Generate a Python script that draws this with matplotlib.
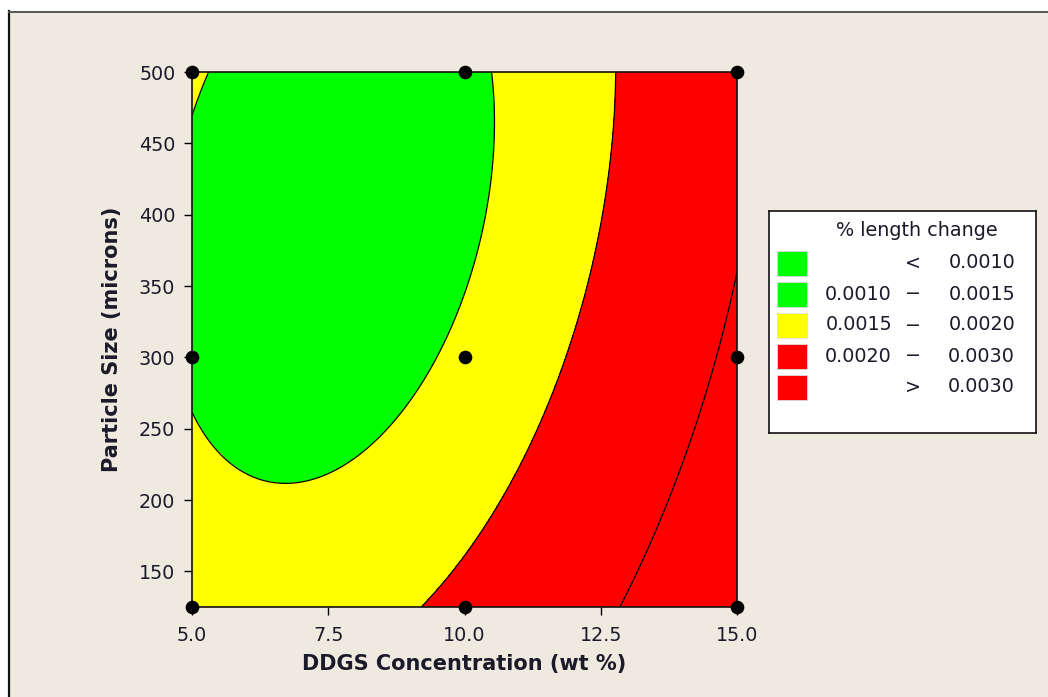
import numpy as np
import matplotlib
matplotlib.use("Agg")
import matplotlib.pyplot as plt
from matplotlib.patches import Rectangle
from matplotlib.lines import Line2D

# ---- data ----
# contour levels (% length change)
levels = [0.0010, 0.0015, 0.0020, 0.0030]
band_colors = ["#00FF00", "#00FF00", "#FFFF00", "#FF0000", "#FF0000"]

# points (DDGS wt %, particle size microns)
c0015_x = [5.33, 5.02, 10.53, 10.53, 10.41, 10.16, 9.98, 9.67, 9.18, 8.45, 7.84, 7.04, 6.40, 5.70, 5.02]
c0015_y = [500, 472, 500, 438, 396, 359, 340, 313, 282, 247, 226, 212, 212, 225, 260]
c0020_x = [12.76, 12.73, 12.61, 12.36, 12.15, 11.97, 11.81, 11.39, 10.83, 10.04, 9.21]
c0020_y = [500, 466, 420, 368, 340, 313, 294, 256, 209, 165, 125]
c0030_x = [14.96, 14.90, 14.72, 14.26, 13.59, 12.88]
c0030_y = [353, 340, 313, 256, 186, 126]

# design points
design_x = [5, 5, 5, 10, 10, 10, 15, 15, 15]
design_y = [125, 300, 500, 125, 300, 500, 125, 300, 500]

xticks = [5.0, 7.5, 10.0, 12.5, 15.0]
yticks = [150, 200, 250, 300, 350, 400, 450, 500]
xlabel = "DDGS Concentration (wt %)"
ylabel = "Particle Size (microns)"
legend_title = "% length change"

# ---- fit quadratic response surface through the read contour points ----
px = np.array(c0015_x + c0020_x + c0030_x, float)
py = np.array(c0015_y + c0020_y + c0030_y, float)
pz = np.array([0.0015] * len(c0015_x) + [0.0020] * len(c0020_x) + [0.0030] * len(c0030_x))

def basis(x, y):
    u = (x - 10.0) / 5.0
    v = (y - 312.5) / 187.5
    return np.stack([np.ones_like(u), u, v, u * u, v * v, u * v], axis=-1)

coef, *_ = np.linalg.lstsq(basis(px, py), pz, rcond=None)

gx = np.linspace(5, 15, 500)
gy = np.linspace(125, 500, 500)
GX, GY = np.meshgrid(gx, gy)
GZ = basis(GX, GY) @ coef

W, H = 1048, 697
fig = plt.figure(figsize=(W / 100, H / 100), dpi=100, facecolor="white")
# background panel with frame lines
fig.patches.append(Rectangle((9 / W, 0), 1, 1 - 12 / H, transform=fig.transFigure,
                             facecolor="#EFEAE0", edgecolor="none", zorder=-10))
fig.lines.append(Line2D([8.5 / W, 8.5 / W], [0, 1 - 11 / H], transform=fig.transFigure,
                        color="#111111", lw=1.6))
fig.lines.append(Line2D([8.5 / W, 1], [1 - 11.5 / H, 1 - 11.5 / H], transform=fig.transFigure,
                        color="#555555", lw=1.4))

ax = fig.add_axes([192 / W, 1 - 607 / H, 545 / W, 535 / H])
zmin = min(GZ.min(), levels[0]) - 1
zmax = max(GZ.max(), levels[-1]) + 1
ax.contourf(GX, GY, GZ, levels=[zmin] + levels + [zmax], colors=band_colors)
ax.contour(GX, GY, GZ, levels=levels, colors="black", linewidths=0.9)
ax.plot(design_x, design_y, "o", color="black", markersize=8.8, clip_on=False, zorder=5)

ax.set_xlim(5, 15)
ax.set_ylim(125, 500)
ax.set_xticks(xticks)
ax.set_xticklabels([f"{t:.1f}" for t in xticks])
ax.set_yticks(yticks)
ax.set_yticklabels([f"{t}" for t in yticks])
ax.tick_params(direction="out", length=6, width=1, labelsize=13.8, colors="black",
               labelcolor="#1a1a2a")
ax.tick_params(axis="x", pad=8)
ax.tick_params(axis="y", pad=6)
for s in ax.spines.values():
    s.set_linewidth(1.2)
    s.set_color("#111111")
ax.set_xlabel(xlabel, fontsize=15, fontweight="bold", labelpad=6, color="#1a1a2a")
ax.set_ylabel(ylabel, fontsize=15, fontweight="bold", labelpad=12, color="#1a1a2a")

# ---- legend box ----
lx0, ly0, lx1, ly1 = 769, 211, 1036, 433
lax = fig.add_axes([lx0 / W, 1 - ly1 / H, (lx1 - lx0) / W, (ly1 - ly0) / H])
lax.set_xlim(0, lx1 - lx0)
lax.set_ylim(ly1 - ly0, 0)
lax.set_xticks([])
lax.set_yticks([])
lax.set_facecolor("white")
for s in lax.spines.values():
    s.set_linewidth(1.2)
    s.set_color("#111111")
fs = 13.8
tc = "#1a1a2a"
lax.text(148, 19, legend_title, ha="center", va="center", fontsize=fs, color=tc)
rows = [("", "<", levels[0])]
for a, b in zip(levels[:-1], levels[1:]):
    rows.append((f"{a:.4f}", "\u2212", b))
rows.append(("", ">", levels[-1]))
for i, (left, mid, right) in enumerate(rows):
    yc = 52 + 31 * i
    lax.add_patch(Rectangle((8, yc - 12.5), 30, 25, facecolor=band_colors[i],
                            edgecolor="#dddddd", lw=0.6))
    if left:
        lax.text(123, yc, left, ha="right", va="center", fontsize=fs, color=tc)
    lax.text(144, yc, mid, ha="center", va="center", fontsize=fs, color=tc)
    lax.text(246, yc, f"{right:.4f}", ha="right", va="center", fontsize=fs, color=tc)

fig.savefig("out.png", dpi=100, facecolor=fig.get_facecolor())
